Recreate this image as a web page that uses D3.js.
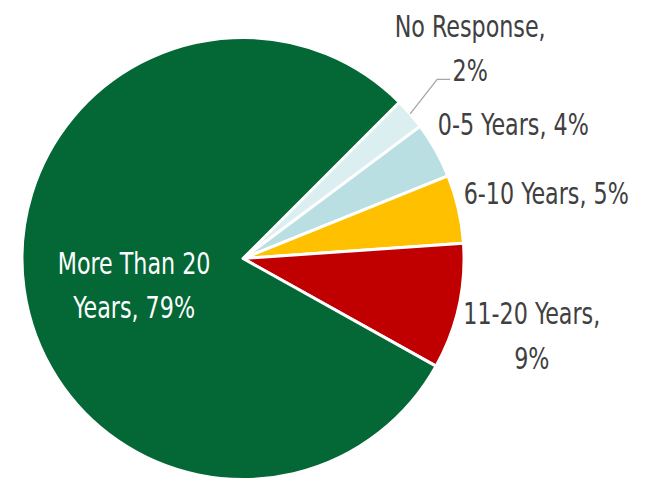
<!DOCTYPE html>
<html><head><meta charset="utf-8">
<script src="https://cdn.jsdelivr.net/npm/d3@7"></script>
<style>html,body{margin:0;padding:0;background:#fff;}</style>
</head><body>
<svg id="chart" width="647" height="479"></svg>
<script>
// Data
const categories = ["No Response", "0-5 Years", "6-10 Years", "11-20 Years", "More Than 20 Years"];
const values = [2.3, 4.1, 5.0, 9.2, 79.4];
const labelLines = [["No Response,", "2%"], ["0-5 Years, 4%"], ["6-10 Years, 5%"], ["11-20 Years,", "9%"], ["More Than 20", "Years, 79%"]];
const colors = ["#dbeef0", "#b9dfe3", "#ffc000", "#c00000", "#046736"];

const svg = d3.select("#chart");
const cx = 243, cy = 258.5, r = 221;
const g = svg.append("g").attr("transform", `translate(${cx},${cy})`);

const pie = d3.pie().sort(null).value(d => d.v)
  .startAngle(45 * Math.PI / 180).endAngle(45 * Math.PI / 180 + 2 * Math.PI);
const data = categories.map((c, i) => ({c, v: values[i], i}));
const arcs = pie(data);
const arc = d3.arc().innerRadius(0).outerRadius(r);

g.selectAll("path.slice").data(arcs).enter().append("path")
  .attr("class", "slice")
  .attr("d", arc)
  .attr("fill", d => colors[d.data.i])
  .attr("stroke", "#fff").attr("stroke-width", 3).attr("stroke-linejoin", "round");

// label placement: polar anchor + small nudges
const labelR = [305, 305, 305, 305, 115];
const nudge = [[-3.5, -10.8], [4.4, 15], [6, 3.4], [-8.9, 10.5], [5, 10.5]];
const lineH = 44.5, capHalf = 11;
const font = "'Liberation Sans Narrow', 'DejaVu Sans Condensed', 'Roboto Condensed', sans-serif";
const squeeze = 0.81;

arcs.forEach((a, k) => {
  const i = a.data.i;
  const mid = (a.startAngle + a.endAngle) / 2;
  const lx = labelR[i] * Math.sin(mid) + nudge[i][0];
  const ly = -labelR[i] * Math.cos(mid) + nudge[i][1];
  const lines = labelLines[i];
  const t = g.append("g").attr("transform", `translate(${lx},0) scale(${squeeze},1)`)
    .append("text")
    .attr("text-anchor", "middle")
    .attr("font-family", font)
    .attr("font-size", 30.5)
    .attr("fill", i === 4 ? "#ffffff" : "#404040");
  lines.forEach((s, j) => {
    t.append("tspan").attr("x", 0)
      .attr("y", ly + capHalf + (j - (lines.length - 1) / 2) * lineH)
      .text(s);
  });
  if (i === 0) {
    // leader line from slice edge to the last line of the label
    const sx = r * Math.sin(mid), sy = -r * Math.cos(mid);
    const lastBase = ly + capHalf + ((lines.length - 1) / 2) * lineH;
    const tx = lx - 20;
    const ey = lastBase - 2, ex = tx - 13;
    g.append("polyline")
      .attr("points", `${sx},${sy} ${ex},${ey} ${tx},${ey}`)
      .attr("fill", "none").attr("stroke", "#a6a6a6").attr("stroke-width", 1.3);
  }
});
</script>
</body></html>
